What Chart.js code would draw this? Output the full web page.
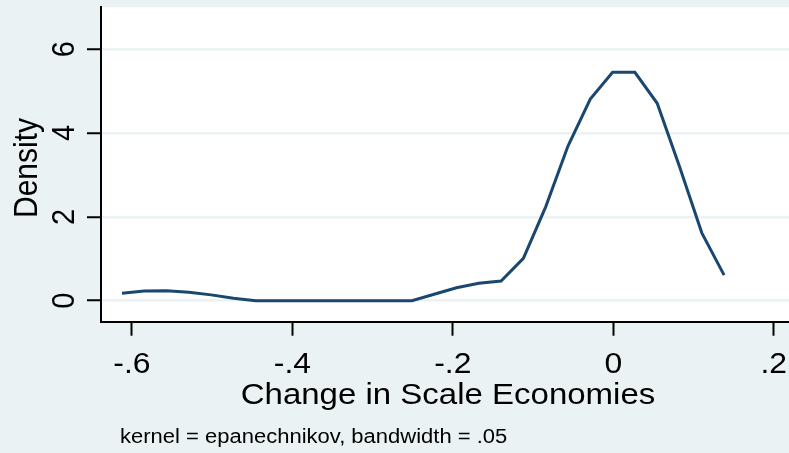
<!DOCTYPE html>
<html>
<head>
<meta charset="utf-8">
<script src="https://cdn.jsdelivr.net/npm/chart.js@4/dist/chart.umd.min.js"></script>
<style>
  html, body { margin: 0; padding: 0; background: #EAF2F3; }
  #wrap { width: 789px; height: 453px; position: relative; }
</style>
</head>
<body>
<div id="wrap"><canvas id="c" width="789" height="453"></canvas></div>
<script>
// Data (kernel density estimate)
const xValues = [-0.6125, -0.5847, -0.5569, -0.5291, -0.5013, -0.4735, -0.4457, -0.4179, -0.3901, -0.3623,
                 -0.3345, -0.3067, -0.2789, -0.2511, -0.2233, -0.1955, -0.1677, -0.1399, -0.1121, -0.0843,
                 -0.0565, -0.0287, -0.0009, 0.0269, 0.0547, 0.0825, 0.1103, 0.1381];
const densityValues = [0.18, 0.23, 0.24, 0.20, 0.14, 0.06, 0.0, 0.0, 0.0, 0.0,
                       0.0, 0.0, 0.0, 0.0, 0.155, 0.31, 0.415, 0.47, 1.01, 2.24,
                       3.69, 4.81, 5.45, 5.45, 4.71, 3.20, 1.62, 0.61];
const xTickValues = [-0.6, -0.4, -0.2, 0, 0.2];
const xTickLabels = ['-.6', '-.4', '-.2', '0', '.2'];
const yTickValues = [0, 2, 4, 6];
const yTickLabels = ['0', '2', '4', '6'];
const xTitle = 'Change in Scale Economies';
const yTitle = 'Density';
const noteText = 'kernel = epanechnikov, bandwidth = .05';

const FONT = "'Liberation Sans', Arial, Helvetica, sans-serif";
const BG = '#EAF2F3';
const SX = 1.1; // horizontal text stretch seen in the reference

const points = xValues.map((x, i) => ({ x: x, y: densityValues[i] }));

function labelFor(values, labels, v) {
  const i = values.findIndex(t => Math.abs(t - v) < 1e-9);
  return i >= 0 ? labels[i] : '';
}

const plotBg = {
  id: 'plotBg',
  beforeDraw(chart) {
    const { ctx, chartArea: a } = chart;
    ctx.save();
    ctx.fillStyle = '#ffffff';
    ctx.fillRect(a.left, a.top, a.right - a.left, a.bottom - a.top);
    ctx.restore();
  }
};

function stretchedText(ctx, text, x, y, rot, align) {
  ctx.save();
  ctx.translate(x, y);
  ctx.scale(SX, 1);
  if (rot) ctx.rotate(rot);
  ctx.textAlign = align;
  ctx.fillText(text, 0, 0);
  ctx.restore();
}

const texts = {
  id: 'texts',
  afterDraw(chart) {
    const ctx = chart.ctx;
    const xs = chart.scales.x, ys = chart.scales.y, a = chart.chartArea;
    ctx.save();
    ctx.fillStyle = '#000';
    ctx.textBaseline = 'alphabetic';
    // y tick labels (rotated)
    ctx.font = '29px ' + FONT;
    ys.ticks.forEach(t => {
      stretchedText(ctx, labelFor(yTickValues, yTickLabels, t.value), 74, ys.getPixelForValue(t.value), -Math.PI / 2, 'center');
    });
    // x tick labels
    xs.ticks.forEach(t => {
      stretchedText(ctx, labelFor(xTickValues, xTickLabels, t.value), xs.getPixelForValue(t.value), 373, 0, 'center');
    });
    // axis titles
    ctx.font = '30px ' + FONT;
    stretchedText(ctx, xTitle, (a.left + a.right) / 2 + 3, 403.5, 0, 'center');
    stretchedText(ctx, yTitle, 36.5, 168, -Math.PI / 2, 'center');
    // note
    ctx.font = '20px ' + FONT;
    stretchedText(ctx, noteText, 120, 443, 0, 'left');
    ctx.restore();
  }
};

new Chart(document.getElementById('c'), {
  type: 'line',
  data: {
    datasets: [{
      data: points,
      borderColor: '#1a476f',
      borderWidth: 3,
      pointRadius: 0,
      tension: 0,
      fill: false
    }]
  },
  options: {
    responsive: false,
    animation: false,
    layout: { padding: { left: 0, right: 0, top: 7.3, bottom: 0 } },
    plugins: { legend: { display: false }, tooltip: { enabled: false }, title: { display: false } },
    scales: {
      x: {
        type: 'linear',
        min: -0.6386,
        max: 0.219,
        afterBuildTicks(s) { s.ticks = xTickValues.map(v => ({ value: v })); },
        afterFit(s) { s.height = 131.3; },
        ticks: { display: false, autoSkip: false, maxRotation: 0, minRotation: 0 },
        grid: { display: true, drawOnChartArea: false, drawTicks: true, tickLength: 14, tickColor: '#000', tickWidth: 2, color: '#000' },
        border: { display: true, color: '#000', width: 2 },
        title: { display: false }
      },
      y: {
        type: 'linear',
        min: -0.5,
        max: 7.0,
        afterBuildTicks(s) { s.ticks = yTickValues.map(v => ({ value: v })); },
        afterFit(s) { s.width = 101; },
        ticks: { display: false },
        grid: { display: true, drawOnChartArea: true, drawTicks: true, tickLength: 14, tickColor: '#000', tickWidth: 2, color: BG, lineWidth: 2.5 },
        border: { display: true, color: '#000', width: 2 },
        title: { display: false }
      }
    }
  },
  plugins: [plotBg, texts]
});
</script>
</body>
</html>
